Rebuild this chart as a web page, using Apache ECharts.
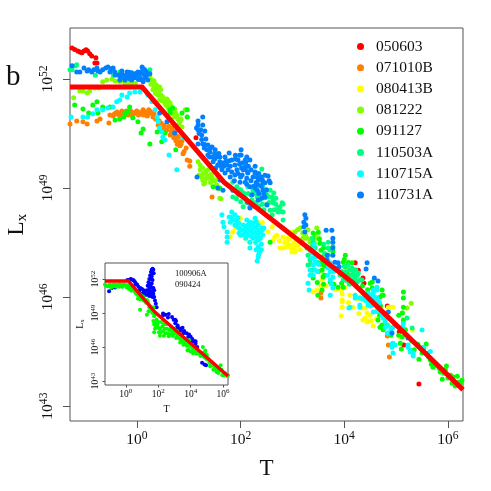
<!DOCTYPE html>
<html>
<head>
<meta charset="utf-8">
<style>
  html, body { margin: 0; padding: 0; background: #fff; }
  #chart { width: 491px; height: 491px; }
</style>
<script src="https://cdn.jsdelivr.net/npm/echarts@6/dist/echarts.min.js"></script>
</head>
<body>
<div id="chart"></div>
<script>
// all values are [log10 T, log10 Lx]
const d050603 = [[-1.25,52.85],[-1.2,52.81],[-1.14,52.77],[-1.1,52.74],[-1.06,52.72],[-1.02,52.77],[-.98,52.8],[-.95,52.77],[-.91,52.69],[-.87,52.63],[-.79,52.58],[-.81,52.44],[-.77,52.44],[1.14,50.38],[5.44,43.61],[4.36,46.52],[4.38,46.38],[4.83,45.75],[5.15,44.68],[5.06,45.04],[4.21,46.94],[4.27,46.74]]
const d071010B = [[-1.29,50.76],[-1.16,50.84],[-1.04,50.82],[-.96,50.76],[-.77,50.84],[-.71,50.9],[-.54,50.79],[-.52,51.01],[-.46,50.98],[-.41,51.06],[-.35,51.01],[-.29,51.12],[-.29,50.98],[-.23,51.09],[-.17,51.01],[-.12,51.12],[-.06,51.04],[0,51.12],[.06,51.06],[.12,51.15],[.12,51.01],[.17,51.09],[.23,51.04],[.23,51.15],[.29,51.06],[.31,50.95],[.41,50.73],[.5,50.65],[.58,50.6],[.64,50.46],[.68,50.65],[.71,50.38],[.77,50.43],[.81,50.27],[.83,50.16],[.87,50.29],[.91,50],[.95,50.1],[.89,49.94],[.97,49.77],[1.02,49.6],[1.02,49.74],[1.45,48.75],[3.55,45.97],[3.55,46.11],[4.85,44.68],[4.87,44.35],[4.83,44.93],
  [-.44,51.03],[-.38,51.09],[-.32,51.03],[-.26,51.06],[-.2,51.12],[-.14,51.06],[-.09,51],[-.03,51.09],[.03,51.01],[.09,51.09],[.15,51.03],[.2,50.98],[.26,51.1],[.33,51.05],[.36,50.9],[.43,50.85],[.47,50.78],[.53,50.72],[.55,50.55],[.62,50.7],[.66,50.55],[.7,50.5],[.74,50.55],[.75,50.3],[.8,50.4],[.85,50.2],[.78,50.2]]
const d080413B = [[2,48.17],[1.85,47.79],[1.8,47.65],[2.09,47.62],[2.18,47.51],[2.34,48.06],[2.61,47.93],[2.53,47.79],[2.66,47.65],[2.76,47.35],[2.82,47.65],[2.89,47.51],[2.95,47.43],[3.05,47.29],[3.11,47.43],[2.82,47.35],[2.91,47.62],[3.01,47.35],[2.63,47.57],[2.99,47.79],[2.99,47.24],[3.05,47.24],[3.09,47.43],[3.01,47.38],[3.09,47.62],[3.47,46.19],[3.96,45.92],[3.96,45.72],[4.21,46.05],[4.3,46],[4.36,45.92],[4.11,46.05],[3.59,46.6],[3.57,46.47],[3.4,46.14],[4.94,45.72],[4.85,45.72],[3.96,46.08],[3.96,45.86],[3.94,45.48],[4.4,45.42],[4.36,45.37],[4.46,45.34],[4.56,45.2],[4.34,45.7],[4.44,45.56],[4.9,45.72],[4.92,45.15],[5.08,44.9],[5.31,45.09],[4.02,46.27],[4.17,45.72],[4.44,45.31],
  [2.7,47.7],[2.75,47.55],[2.85,47.5],[2.95,47.6],[3.03,47.5],[2.98,47.35],[3.15,47.3],[2.9,47.38],[3.55,46.3],[3.65,46.3],[3.95,46.2],[4.08,45.85],[4.25,45.95],[4.28,45.55],[4.4,45.7],[4.5,45.5],[4.52,45.35],[4.62,45.4],[4.8,45.4],[3.85,46.2],[1.9,47.9],[2.42,48.05]]
const d081222 = [[-1.1,51.67],[-1.04,51.67],[-.96,51.61],[-1.22,51.48],[-.91,51.67],[-.81,51.75],[-.73,51.75],[-.66,51.92],[-.58,51.97],[-.48,52],[-.42,51.94],[-.33,51.92],[-.23,51.89],[-.08,51.89],[.29,51.97],[.35,51.86],[.31,51.7],[.39,51.7],[.41,51.56],[.46,51.7],[.44,51.42],[.5,51.5],[.54,51.34],[.58,51.45],[.6,51.23],[.64,51.34],[.68,51.17],[.69,51.04],[.75,51.06],[.79,50.9],[.83,50.82],[.87,50.68],[.93,51.15],[.97,50.95],[.25,52.05],[1.22,49.5],[1.27,49.55],[1.2,49.36],[1.27,49.22],[1.31,49.14],[1.35,49.36],[1.39,49.27],[1.45,49.3],[1.47,49.22],[1.54,49.08],[1.6,48.72],[1.22,49.63],[1.18,49.72],[1.51,49.44],[1.37,49.5],[1.29,49.11],[1.62,48.7],[3.15,47.9],[3.2,47.76],[3.2,47.62],[3.05,47.79],[3.47,47.9],[3.19,47.57],[3.28,47.62],[3.34,47.51],[3.44,47.71],[3.38,47.35],[5.29,45.83],[5.21,45.7],[5.12,45.56],
  [.27,51.85],[.33,51.78],[.36,51.6],[.42,51.65],[.47,51.55],[.48,51.4],[.52,51.4],[.56,51.28],[.6,51.4],[.62,51.15],[.66,51.25],[.7,51.1],[.73,51.17],[.72,50.95],[.77,51],[.81,50.75],[.85,50.9],[.33,51.95],[.38,51.82],[.44,51.78],[-.3,51.95],[-.18,51.9],[-.13,51.85],[-.03,51.88],[1.28,49.4],[1.32,49.25],[1.25,49.3],[1.42,49.15],[1.5,49.2],[1.56,49.3],[1.43,49.38],[1.33,49.45],[1.58,48.98],[3.1,47.85],[3.25,47.7],[3.3,47.85],[3.37,47.6],[3.5,47.6],[3.42,47.5]]
const d091127 = [[-1.2,51.28],[-1.04,51.17],[-.93,51.06],[-.85,51.28],[-.77,51.37],[-.75,51.06],[-.66,51.23],[-.52,51.23],[-.42,50.87],[-.33,50.9],[-.25,50.95],[-.23,51.06],[-.17,51.09],[-.14,51.23],[-.08,50.93],[.02,50.82],[.12,50.62],[.08,50.51],[.25,50.21],[.39,50.54],[.48,50.27],[.44,50.6],[.54,50.51],[.64,51.06],[.69,51.2],[.97,51.15],[.97,50.95],[.87,51.06],[.64,51.15],[.75,50.05],[1.47,49.03],[1.6,49],[2.57,47.51],[3.4,47.76],[3.4,47.62],[3.53,47.48],[3.55,47.29],[3.57,47.1],[3.57,46.94],[3.57,46.74],[3.59,46.55],[3.4,46.52],[3.57,46.19],[3.49,46.05],[4.02,47.15],[3.98,46.96],[4.02,46.83],[4.05,46.66],[4.15,46.94],[3.73,46.41],[3.88,46.27],[3.98,46.27],[4.5,46.38],[4.69,46],[4.73,46.19],[4.75,46.05],[4.65,45.86],[5.14,46.14],[5.14,45.97],[5.14,45.72],[5.12,45.56],[5.14,45.37],[5.12,45.17],[5.08,44.73],[5.1,44.57],[5.12,44.9],[4.73,46.05],[4.54,46.41],[4.54,46.25],[4.65,45.37],[4.73,45.23],[4.69,45.17],[4.83,45.23],[5.44,44.29],[5.58,44.71],[5.5,44.46],[5.66,44.27],[5.71,44.07],[5.83,44.04],[5.85,43.94],[5.89,43.74],[5.97,44.1],[6,43.77],[6.14,43.55],[6.18,43.82],[6.24,43.63],[6.27,43.71],[5.75,44.18],[6.08,43.63],[3.78,47.38],[3.78,47.25],[3.59,47.02],
  [3.52,47.6],[3.55,46.9],[3.62,46.85],[3.62,46.6],[3.5,46.7],[3.48,46.4],[3.6,46.35],[4,47.03],[4.08,46.95],[4.1,46.6],[3.95,46.38],[3.8,46.35],[4.35,46.3],[4.45,46.2],[4.6,46.2],[4.62,45.95],[4.7,45.75],[4.68,45.5],[4.78,45.5],[4.82,45.42],[4.75,45.1],[4.9,44.95],[5.05,44.95],[5.05,45.5],[5.18,45.1],[5.3,44.8],[5.42,44.7],[5.47,44.6],[5.35,44.55],[5.53,44.58],[5.6,44.45],[5.63,44.35],[5.68,44.15],[5.78,44.12],[5.92,43.9],[5.95,44],[6.05,43.85],[6.1,43.8],[6.2,43.65],[3.5,47.78],[3.6,47.35]]
const d110503A = [[-1.25,52.25],[-1.18,52.36],[-1.16,52.39],[-1.29,52.25],[-.33,52.19],[.25,52.25],[-.8,52.1],[-.45,52.1],[1.85,49.16],[1.93,49.03],[2.03,48.89],[2.14,49.03],[2.24,48.94],[2.34,48.89],[2.43,48.81],[2.53,48.75],[2.57,48.94],[2.63,48.67],[2.41,49.52],[2.47,48.73],[2.32,48.75],[2.22,48.67],[2.09,48.73],[1.95,48.81],[1.85,48.75],[2.05,48.48],[2.18,48.48],[2.37,48.67],[2.51,48.81],[2.63,48.59],[2.76,48.48],[2.82,48.34],[2.72,48.34],[2.61,48.26],[2.43,49.03],[2.34,49.08],[2.8,48.59],[2.57,48.39],[2.64,48.86],[2.82,48.56],[2.82,48.12],[3.38,47.62],[3.38,47.4],[3.44,47.15],[3.34,47.29],[3.34,47.02],[3.69,47.51],[3.69,47.35],[3.69,47.15],[4.07,46.88],[4.02,46.69],[4.17,46.69],[4.07,46.55],[4.25,46.6],[3.98,46.47],[4.15,46.47],[4.25,46.41],[4.34,46.47],[3.49,46.96],[3.3,46.88],[3.38,46.74],[4.19,46.6],[4.21,46.52],[4.3,46.47],[4.27,46.66],[5.31,45.15],[5.21,45.42],
  [1.9,48.95],[2,48.95],[2.07,48.85],[2.15,48.85],[2.2,48.8],[2.28,48.85],[2.38,48.78],[2.48,48.9],[2.55,48.6],[2.6,48.75],[2.68,48.55],[2.72,48.45],[2.65,48.4],[2.5,48.55],[2.42,48.55],[2.35,48.5],[2.3,48.6],[2.25,48.5],[2.12,48.6],[2,48.62],[1.92,48.7],[2.78,48.35],[2.68,48.72],[2.45,48.4],[3.95,46.7],[4,46.85],[4.1,46.75],[4.12,46.6],[4.05,46.45],[4.15,46.8],[4.22,46.75],[4.2,46.4],[4.1,46.35],[3.92,46.6],[3.62,47.2],[3.65,47.05],[3.72,47.3],[3.6,47.45],[3.4,47.5],[3.3,47.15],[3.28,47.35],[3.35,46.9],[3.44,47.35]]
const d110715A = [[-1.27,50.95],[-1.04,50.95],[-.95,50.95],[-.85,51.04],[-.77,51.15],[-.66,51.15],[-.56,51.2],[-.46,51.23],[-.39,51.37],[-.33,51.42],[-.29,51.56],[-.19,51.5],[-.14,51.61],[-.04,51.64],[.06,51.64],[.1,51.75],[.21,51.56],[.29,51.37],[.35,51.15],[.39,50.95],[.41,50.82],[.44,50.65],[.48,50.54],[.5,50.4],[.54,50.32],[.62,49.91],[.77,49.5],[.89,50.38],[1.64,48.26],[1.66,48.06],[1.68,47.93],[1.74,47.79],[1.74,47.65],[1.74,47.51],[1.83,48.34],[1.83,48.2],[1.8,48.06],[1.89,48.26],[1.89,48.12],[1.89,47.98],[1.97,48.03],[1.97,47.9],[1.97,47.76],[2.05,47.98],[2.05,47.84],[2.05,47.71],[2.14,47.98],[2.14,47.84],[2.14,47.71],[2.24,48.03],[2.24,47.9],[2.24,47.76],[2.24,47.62],[2.34,47.98],[2.34,47.84],[2.34,47.71],[2.34,47.57],[2.41,47.9],[2.43,47.71],[2.18,47.51],[2.18,47.35],[2.34,47.38],[2.37,47.24],[2.34,47.1],[2.32,46.99],[2.12,48.12],[2.18,48.06],[2.28,48.17],[3.3,46.38],[3.32,46.19],[3.34,46.74],[3.34,46.6],[3.4,46.88],[3.38,47.07],[3.38,47.21],[3.44,46.96],[3.44,46.74],[3.73,46.94],[3.73,46.69],[3.73,46.47],[3.73,46.05],[3.78,46.25],[3.78,46.55],[3.69,46.8],[4.11,45.72],[4.63,46.27],[4.56,46.19],[4.59,46],[4.54,46],[4.63,45.86],[4.46,46.11],[4.09,45.7],[4.21,45.97],[4.3,45.78],[4.46,45.86],[4.56,45.78],[4.63,45.97],[4.65,45.7],[4.73,45.5],[4.79,45.31],[4.83,45.01],[4.92,44.71],[4.94,44.46],[5.23,44.62],[5.27,44.49],[5.33,44.46],[5.5,45.09],[5.14,45.28],[4.21,46.05],[4.3,45.97],[4.46,46],[4.56,46.11],[4.63,46.19],[4.56,45.83],[4.46,45.78],[4.56,45.59],[4.3,45.72],[4.65,45.83],[4.75,45.42],[4.79,45.17],[4.85,45.01],[4.94,45.17],[4.94,44.73],[4.92,44.62],[4.98,44.68],[5.23,44.68],[5.27,44.54],[5.33,44.38],[5.52,44.62],[5.12,45.17],[5.66,44.5],
  [1.93,48.1],[1.93,47.95],[2,47.85],[2,47.7],[2.1,47.92],[2.1,47.78],[2.1,47.62],[2.19,47.95],[2.19,47.82],[2.19,47.68],[2.29,47.92],[2.29,47.78],[2.29,47.65],[2.29,47.5],[2.38,47.8],[2.38,47.62],[2.42,47.85],[2.45,47.9],[2.2,48.05],[2.3,48.08],[1.85,48.12],[1.78,48.2],[1.95,48.18],[2.4,47.45],[2.3,47.3],[2.4,47.3],[2.35,47.18],[3.4,47.3],[3.45,47.1],[3.5,46.9],[3.48,46.7],[3.4,46.6],[3.42,47.45],[3.75,46.75],[3.8,46.7],[3.75,46.35],[3.68,46.6],[4.4,46.05],[4.5,46.05],[4.42,45.9],[4.5,45.75],[4.6,45.95],[4.68,45.85],[4.7,45.6],[4.62,45.6],[4.78,45.4],[4.8,45.55],[4.35,45.95],[4.52,45.9],[4.85,45.2],[4.9,45.1]]
const d110731A = [[-1.25,52.36],[-1.16,52.19],[-1.1,52.19],[-1.02,52.3],[-.96,52.22],[-.87,52.19],[-.77,52.3],[-.71,52.19],[-.66,52.25],[-.56,52.33],[-.52,52.19],[-.46,52.3],[-.37,52.11],[-.33,51.97],[-.27,52.11],[-.19,52.19],[-.17,52.03],[-.1,52.17],[-.04,52.03],[.02,52.19],[.06,52.03],[.1,52.33],[.15,52.25],[.19,52.11],[.12,51.92],[-.42,52.11],[-.29,52.22],[-.1,51.97],[.21,51.97],[-.23,51.97],[0,52.11],[.25,52.14],[.44,51.06],[.58,50.82],[.73,50.51],[1.27,50.95],[1.18,50.84],[1.18,50.73],[1.18,50.6],[1.27,50.73],[1.31,50.57],[1.25,50.46],[1.33,50.35],[1.18,50.21],[1.27,50.21],[1.37,50.18],[1.45,50.13],[1.35,50.05],[1.41,49.99],[1.51,50.05],[1.45,49.85],[1.54,49.85],[1.47,49.72],[1.37,49.91],[1.56,49.63],[1.6,49.72],[1.66,49.69],[1.64,49.5],[1.74,49.63],[1.78,49.96],[1.83,49.77],[1.89,49.63],[1.76,49.5],[1.7,49.41],[1.83,49.44],[2.01,50.05],[2.01,49.91],[1.95,49.77],[2.03,49.69],[2.09,49.58],[2.18,49.77],[2.14,49.44],[1.93,49.5],[2.03,49.36],[2.12,49.27],[2.24,49.3],[2.28,49.44],[2.34,49.22],[2.53,49.33],[2.47,49.14],[2.09,49.16],[1.89,49.36],[1.16,49.3],[1.56,49],[1.66,48.94],[2.18,49.03],[1.99,49.16],[1.6,49.22],[2.43,49.16],[2.57,49.14],[2.43,48.94],[2.47,48.75],[2.51,48.53],[2.41,48.72],[2.18,48.45],[2.14,48.61],[1.85,48.94],[2.22,48.81],[2.32,48.94],[2.34,48.67],[2.09,49.77],[2.28,49.41],[2.32,49.3],[2.09,49.5],[2.14,49.41],[2.34,49.08],[2.28,49],[3.24,48.26],[3.26,48.17],[3.22,48.06],[3.26,47.98],[3.22,47.93],[3.24,47.79],[3.65,47.84],[3.76,47.84],[3.78,47.62],[3.78,47.51],[3.67,47.15],[3.67,47.02],[3.78,47.15],[3.78,47.35],[3.82,46.96],[3.88,46.94],[3.9,46.83],[3.82,46.8],[4.44,46.94],[4.42,46.77],[4.58,46.52],[4.65,46.44],[4.85,45.59],[4.92,45.01],[5.23,44.87],
  [-.93,52.25],[-.83,52.25],[-.75,52.22],[-.6,52.3],[-.5,52.28],[-.43,52.2],[-.32,52.08],[-.2,52.1],[-.13,52.1],[-.07,52.12],[-.02,52.15],[.05,52.15],[.09,52.2],[.13,52.13],[.16,52.03],[.08,51.98],[.03,51.98],[-.07,52.05],[-.13,52],[-.25,52.03],[-.3,52.15],[-.15,52.18],[.18,52.2],[.12,52.28],
  [1.3,50.1],[1.42,50.1],[1.5,49.95],[1.58,49.95],[1.4,49.85],[1.5,49.8],[1.6,49.85],[1.7,49.85],[1.68,49.6],[1.78,49.75],[1.8,49.6],[1.9,49.8],[1.98,49.65],[2.1,49.7],[2.15,49.6],[2.2,49.5],[2.28,49.6],[2.35,49.4],[2.4,49.3],[2.47,49.35],[2.05,49.5],[1.95,49.4],[1.8,49.3],[1.88,49.2],[2,49.3],[2.2,49.2],[2.3,49.15],[2.4,49.05],[2.5,48.95],[2.55,49.2],[2.12,49.1],[2.25,49.05],[2.35,48.85],[2.45,48.85],[1.98,49.9],[1.9,49.9],[1.72,49.75],[1.62,49.6],[1.52,49.55],[2.02,49.55],[2.12,49.85],[2.42,49.22],[1.25,50.33],[1.2,50.5],[1.15,50.65],[1.23,50.6],[1.3,50.2]]
const d100906A = [[-1.03,50.9],[-.86,51.2],[-.66,51.25],[-.3,51.35],[.16,51.85],[.3,52],[.37,51.95],[.5,51.85],[.58,51.7],[.7,51.5],[.78,51.3],[.9,51.2],[1,51.1],[1.1,51],[1.19,50.85],[1.3,51],[1.35,51.4],[1.4,51.7],[1.45,52],[1.5,52.3],[1.55,52.6],[1.6,52.8],[1.65,52.9],[1.7,52.8],[1.72,52.5],[1.6,52.2],[1.65,51.9],[1.6,51.6],[1.55,51.3],[1.7,51.2],[1.75,51],[1.6,50.9],[1.5,50.7],[1.7,50.7],[1.75,50.4],[1.8,50.1],[1.85,49.8],[1.9,49.5],[1.45,50.5],[1.3,50.6],[1,50.7],[.8,50.9],[2.3,48.95],[2.45,48.85],[2.65,48.9],[2.85,48.65],[2.95,48.4],[3.05,48.1],[3.2,47.9],[3.3,47.65],[3.4,47.45],[3.5,47.7],[3.6,47.4],[3.75,47.2],[3.9,47.1],[4,46.9],[4.1,46.7],[4.2,46.5],[4.3,46.3],[4.2,46.1],[4.4,46],[3.05,48.4],[4.7,44.6],[4.85,44.45],[4.95,44.4],
  [.1,51.9],[.22,51.9],[.44,51.9],[.6,51.5],[.85,51],[1.4,51],[1.45,51.3],[1.5,51.6],[1.55,52],[1.65,52.5],[1.5,51.2],[1.4,50.7],[1.55,50.5],[1.65,50.4],[1.2,50.6],[1.1,50.8],[3.1,48.3],[3.15,47.7],[2.3,48.8],[2.6,48.6],[3.55,47.2],[3.85,46.9],[4.3,46.5],[4.05,46.5]]
const d090424 = [[-1.28,51.5],[-1.1,51.35],[-.9,51.4],[-.7,51.5],[-.5,51.45],[-.3,51.4],[-.1,51.5],[.1,51.45],[.3,51.3],[.05,51.25],[-.2,51.3],[-.6,51.3],[-.9,51.25],[.2,51.1],[.35,50.95],[.5,51],[.6,50.75],[.7,50.85],[.8,50.5],[.9,50.6],[1,50.3],[1.1,50.4],[1.2,50.05],[1.3,50.15],[1.4,49.8],[.9,50.2],[.75,50.25],[.88,49.29],[1.3,48.85],[1.4,49.15],[1.5,49.6],[1.6,49.3],[1.7,49.5],[1.75,48.7],[1.7,48.3],[1.75,48],[1.8,47.6],[1.75,47.3],[1.9,48.4],[1.95,48],[2,47.7],[2.05,47.3],[2.1,47],[2.2,48.2],[2.25,47.8],[2.3,47.4],[2.35,47],[2.5,48],[2.55,47.6],[2.6,47.2],[2.65,46.95],[2.8,47.7],[2.85,47.35],[2.9,47],[3,47.6],[3.05,47.2],[3.1,46.8],[3.25,47.1],[3.3,46.75],[3.35,46.4],[3.45,46.9],[3.5,46.5],[3.55,46.2],[3.7,46.5],[3.75,46.1],[3.8,45.7],[3.9,46.6],[3.95,46.1],[4,45.6],[4.1,45.9],[4.15,45.45],[4.25,45.7],[4.35,45.4],[4.5,45.6],[4.6,45.2],[4.75,46],[4.8,45.5],[4.85,45.1],[4.95,45],[5,45.3],[5.1,44.9],[5.2,44.3],[5.3,44.6],[5.4,44],[5.55,44.2],[5.6,43.8],[5.7,43.7],[5.85,44.4],[5.9,44],[5.95,43.5],[6.1,43.7],[6.2,43.6],[6.3,43.5],[5,44.9],[4.9,45.4],
  [-1.2,51.4],[-1,51.5],[-.8,51.5],[-.6,51.5],[-.4,51.55],[-.2,51.5],[0,51.45],[.2,51.35],[-.4,51.3],[-.75,51.35],[.4,51.1],[.55,50.9],[.7,50.6],[.85,50.4],[1,50.5],[1.1,50.1],[1.25,49.9],[1.35,50],[1.45,49.5],[1.55,49.2],[1.65,49],[1.85,48.9],[1.8,48.2],[1.85,47.8],[2,48.2],[2.1,47.6],[2.15,47.3],[2.35,48],[2.4,47.6],[2.45,47.2],[2.7,47.5],[2.75,47.1],[2.95,47.3],[3.15,47.4],[3.2,47],[3.4,46.6],[3.6,46.7],[3.65,46.3],[3.85,46.2],[3.85,45.8],[4.05,45.6],[4.2,45.6],[4.4,45.6],[4.55,45.4],[4.9,45.7],[4.8,45.2],[5.05,45],[5.15,44.6],[5.25,44.4],[5.45,44.3],[5.5,44],[5.65,43.95],[5.8,43.9],[6,43.6],[6.05,43.5],[6.25,43.45]]
const mainFit = [[-1.29,51.78],[.1,51.78],[1.68,49.16],[4.15,46.41],[6.29,43.45]]
const insetFit = [[-1.28,51.82],[.16,51.82],[1.81,49.05],[6.3,43.45]]

const grbNames = ['050603', '071010B', '080413B', '081222', '091127', '110503A', '110715A', '110731A']
const grbData = [d050603, d071010B, d080413B, d081222, d091127, d110503A, d110715A, d110731A]
const insetNames = ['100906A', '090424']
const xTicks = [0, 2, 4, 6]
const yTicks = [43, 46, 49, 52]

const grbColors = ['#ff0000', '#ff8000', '#ffff00', '#80ff00', '#00ff00', '#00ff80', '#00ffff', '#0080ff']
const serif = '"Liberation Serif", "Times New Roman", serif'

const powerLabel = (value) => '{b|10}{s|' + value + '}'

function makeAxis(type, index, range, ticks, opts) {
  return {
    type: 'value',
    gridIndex: index,
    min: range[0],
    max: range[1],
    splitLine: { show: false },
    axisLine: { show: false, onZero: false },
    axisTick: { show: true, customValues: ticks, length: opts.tick, lineStyle: { color: '#555', width: 1 } },
    axisLabel: {
      show: true,
      customValues: ticks,
      margin: opts.margin,
      rotate: type === 'y' ? 90 : 0,
      formatter: powerLabel,
      rich: {
        b: { fontFamily: serif, fontSize: opts.font, color: '#111' },
        s: { fontFamily: serif, fontSize: opts.font * 0.75, color: '#111', padding: [0, 0, opts.font * 0.55, 0] }
      }
    },
    name: opts.name,
    nameLocation: 'middle',
    nameGap: opts.nameGap,
    nameTextStyle: {
      rich: {
        l: { fontFamily: serif, fontSize: opts.nameFont, color: '#111' },
        x: { fontFamily: serif, fontSize: opts.nameFont * 0.68, color: '#111', padding: [opts.nameFont * 0.4, 0, 0, 0] }
      }
    }
  }
}

const series = grbNames.map((name, i) => ({
  name: name,
  type: 'scatter',
  xAxisIndex: 0,
  yAxisIndex: 0,
  symbolSize: 5,
  itemStyle: { color: grbColors[i], opacity: 1 },
  data: grbData[i]
}))
series.push({
  type: 'line', xAxisIndex: 0, yAxisIndex: 0, showSymbol: false, z: 5,
  lineStyle: { color: '#ff0000', width: 5, cap: 'butt', join: 'miter' },
  data: mainFit
})
series.push({
  type: 'scatter', xAxisIndex: 1, yAxisIndex: 1, symbolSize: 4, z: 6,
  itemStyle: { color: '#0000ff', opacity: 1 }, data: d100906A
})
series.push({
  type: 'scatter', xAxisIndex: 1, yAxisIndex: 1, symbolSize: 4, z: 6,
  itemStyle: { color: '#00ff00', opacity: 1 }, data: d090424
})
series.push({
  type: 'line', xAxisIndex: 1, yAxisIndex: 1, showSymbol: false, z: 7,
  lineStyle: { color: '#ff0000', width: 3.4, cap: 'butt', join: 'miter' },
  data: insetFit
})

const chart = echarts.init(document.getElementById('chart'))
chart.setOption({
  animation: false,
  backgroundColor: '#fff',
  textStyle: { fontFamily: serif },
  grid: [
    { left: 70, top: 28, width: 393, height: 393, show: true, borderColor: '#555', borderWidth: 1, backgroundColor: '#fff', outerBoundsMode: 'none' },
    { left: 105, top: 263, width: 123, height: 122, show: true, borderColor: '#555', borderWidth: 1, backgroundColor: '#fff', outerBoundsMode: 'none' }
  ],
  xAxis: [
    makeAxis('x', 0, [-1.29, 6.29], xTicks, { tick: 7, margin: 9, font: 15.5, name: '{l|T}', nameGap: 36, nameFont: 23 }),
    makeAxis('x', 1, [-1.28, 6.3], xTicks, { tick: 2.5, margin: 3, font: 9.5, name: '{l|T}', nameGap: 19, nameFont: 10 })
  ],
  yAxis: [
    makeAxis('y', 0, [42.59, 53.4], yTicks, { tick: 7, margin: 12, font: 15.5, name: '{l|L}{x|x}', nameGap: 35, nameFont: 23 }),
    makeAxis('y', 1, [42.65, 53.4], yTicks, { tick: 2.5, margin: 3, font: 9.5, name: '{l|L}{x|x}', nameGap: 19, nameFont: 10 })
  ],
  legend: {
    data: grbNames,
    orient: 'vertical',
    left: 357,
    top: 38,
    padding: 0,
    itemGap: 4.2,
    itemWidth: 7,
    itemHeight: 7,
    icon: 'circle',
    selectedMode: false,
    textStyle: { fontFamily: serif, fontSize: 15.5, color: '#111', lineHeight: 17, padding: [0, 0, 0, 7] }
  },
  graphic: [
    { type: 'text', left: 6, top: 63, style: { text: 'b', font: '29px ' + serif, fill: '#111' } },
    { type: 'text', left: 175, top: 269, style: { text: insetNames[0], font: '8.5px ' + serif, fill: '#111' } },
    { type: 'text', left: 175, top: 280, style: { text: insetNames[1], font: '8.5px ' + serif, fill: '#111' } }
  ],
  series: series
})
</script>
</body>
</html>
